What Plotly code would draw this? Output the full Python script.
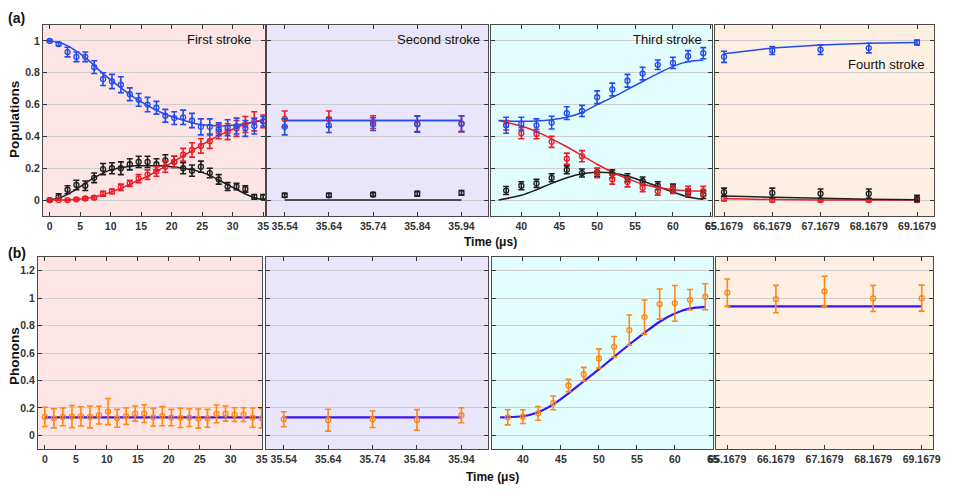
import plotly.graph_objects as go
from plotly.subplots import make_subplots

# the page adds an 8 px body margin, so the figure is drawn 8 px smaller
# and every pixel position below is measured on the 953x496 reference
OFF = 8
W, H = 953 - OFF, 496 - OFF

# ---------------- (a) populations ----------------
# first stroke
t1 = [0, 1.46, 2.92, 4.38, 5.83, 7.29, 8.75, 10.21, 11.67, 13.13, 14.58, 16.04, 17.5,
      18.96, 20.42, 21.88, 23.33, 24.79, 26.25, 27.71, 29.17, 30.63, 32.08, 33.54, 35.0]
blue1 = [1.0, 0.98, 0.93, 0.90, 0.90, 0.835, 0.76, 0.745, 0.725, 0.665, 0.63, 0.60, 0.58,
         0.53, 0.515, 0.52, 0.50, 0.46, 0.46, 0.445, 0.455, 0.465, 0.45, 0.465, 0.495]
blue1_err = [0.005, 0.01, 0.03, 0.03, 0.03, 0.04, 0.04, 0.045, 0.05, 0.04, 0.04, 0.045, 0.04,
             0.04, 0.04, 0.045, 0.045, 0.05, 0.05, 0.04, 0.05, 0.05, 0.05, 0.05, 0.03]
red1 = [0.0, 0.0, 0.0, 0.005, 0.01, 0.015, 0.04, 0.055, 0.08, 0.105, 0.135, 0.16, 0.18,
        0.21, 0.24, 0.285, 0.315, 0.34, 0.37, 0.43, 0.43, 0.45, 0.475, 0.495, 0.495]
red1_err = [0.003, 0.003, 0.005, 0.008, 0.01, 0.01, 0.015, 0.015, 0.02, 0.02, 0.025, 0.03, 0.03,
            0.035, 0.035, 0.04, 0.045, 0.045, 0.045, 0.045, 0.05, 0.05, 0.05, 0.06, 0.04]
black1 = [0.0, 0.02, 0.065, 0.095, 0.09, 0.14, 0.195, 0.20, 0.20, 0.225, 0.24, 0.24, 0.225,
          0.25, 0.24, 0.20, 0.185, 0.21, 0.17, 0.13, 0.085, 0.085, 0.07, 0.02, 0.02]
black1_err = [0.005, 0.02, 0.025, 0.03, 0.03, 0.03, 0.035, 0.035, 0.04, 0.035, 0.035, 0.035, 0.035,
              0.035, 0.035, 0.035, 0.035, 0.035, 0.03, 0.03, 0.025, 0.02, 0.02, 0.015, 0.015]
tc1 = [0, 2, 4, 6, 8, 10, 12, 14, 16, 18, 20, 22, 24, 26, 28, 30, 32, 34, 35]
blue_fit1 = [1.0, 0.985, 0.945, 0.89, 0.82, 0.755, 0.695, 0.64, 0.595, 0.555, 0.525, 0.50,
             0.48, 0.47, 0.465, 0.47, 0.48, 0.495, 0.50]
red_fit1 = [0.0, 0.0, 0.003, 0.01, 0.025, 0.05, 0.08, 0.115, 0.15, 0.19, 0.235, 0.28,
            0.325, 0.37, 0.41, 0.445, 0.475, 0.495, 0.50]
black_fit1 = [0.0, 0.02, 0.06, 0.11, 0.155, 0.19, 0.205, 0.215, 0.215, 0.215, 0.21, 0.20,
              0.185, 0.16, 0.12, 0.08, 0.04, 0.01, 0.005]

# second stroke
t2 = [35.54, 35.64, 35.74, 35.84, 35.94]
t2_labels = ["35.54", "35.64", "35.74", "35.84", "35.94"]
blue2 = [0.46, 0.47, 0.477, 0.477, 0.48]
blue2_err = [0.05, 0.045, 0.04, 0.05, 0.05]
red2 = [0.51, 0.51, 0.49, 0.48, 0.48]
red2_err = [0.05, 0.05, 0.04, 0.05, 0.05]
black2 = [0.03, 0.03, 0.035, 0.04, 0.045]
black2_err = [0.012, 0.012, 0.012, 0.015, 0.015]
blue_fit2 = [0.5, 0.5]
red_fit2 = [0.5, 0.5]
black_fit2 = [0.0, 0.0]

# third stroke
t3 = [38, 40, 42, 44, 46, 48, 50, 52, 54, 56, 58, 60, 62, 64]
blue3 = [0.47, 0.48, 0.47, 0.487, 0.546, 0.56, 0.646, 0.695, 0.75, 0.795, 0.85, 0.862, 0.904, 0.923]
blue3_err = [0.05, 0.04, 0.04, 0.04, 0.04, 0.035, 0.04, 0.04, 0.04, 0.04, 0.03, 0.035, 0.035, 0.035]
red3 = [0.47, 0.42, 0.415, 0.366, 0.26, 0.276, 0.17, 0.13, 0.113, 0.077, 0.056, 0.067, 0.056, 0.056]
red3_err = [0.03, 0.035, 0.03, 0.035, 0.035, 0.035, 0.03, 0.03, 0.03, 0.025, 0.025, 0.025, 0.03, 0.03]
black3 = [0.06, 0.09, 0.105, 0.14, 0.19, 0.17, 0.175, 0.165, 0.14, 0.12, 0.09, 0.075, 0.045, 0.035]
black3_err = [0.025, 0.025, 0.025, 0.025, 0.025, 0.025, 0.025, 0.025, 0.025, 0.025, 0.025, 0.025, 0.025, 0.025]
tc3 = [37, 40, 42, 44, 46, 48, 50, 52, 54, 56, 58, 60, 62, 64]
blue_fit3 = [0.50, 0.495, 0.497, 0.505, 0.52, 0.55, 0.60, 0.645, 0.695, 0.745, 0.795, 0.84, 0.87, 0.88]
red_fit3 = [0.50, 0.465, 0.43, 0.385, 0.335, 0.28, 0.225, 0.175, 0.135, 0.10, 0.08, 0.065, 0.058, 0.055]
black_fit3 = [0.0, 0.03, 0.065, 0.105, 0.14, 0.165, 0.175, 0.17, 0.15, 0.12, 0.085, 0.05, 0.02, 0.005]

# fourth stroke
t4 = [65.1679, 66.1679, 67.1679, 68.1679, 69.1679]
t4_labels = ["65.1679", "66.1679", "67.1679", "68.1679", "69.1679"]
blue4 = [0.90, 0.94, 0.945, 0.955, 0.99]
blue4_err = [0.035, 0.025, 0.03, 0.03, 0.015]
red4 = [0.01, 0.0, 0.0, 0.0, 0.0]
red4_err = [0.015, 0.01, 0.01, 0.01, 0.01]
black4 = [0.05, 0.045, 0.04, 0.04, 0.01]
black4_err = [0.025, 0.03, 0.03, 0.03, 0.02]
blue_fit4 = [0.92, 0.955, 0.975, 0.985, 0.99]
red_fit4 = [0.01, 0.003, 0.001, 0.0, 0.0]
black_fit4 = [0.025, 0.018, 0.01, 0.005, 0.002]

# ---------------- (b) phonons ----------------
ph1 = [0.134, 0.124, 0.134, 0.136, 0.138, 0.134, 0.147, 0.173, 0.124, 0.139, 0.158, 0.158, 0.131,
       0.139, 0.129, 0.127, 0.129, 0.122, 0.124, 0.156, 0.158, 0.151, 0.151, 0.129, 0.124]
ph1_err = [0.07, 0.07, 0.065, 0.08, 0.07, 0.08, 0.065, 0.095, 0.065, 0.06, 0.055, 0.065, 0.065,
           0.07, 0.06, 0.07, 0.065, 0.07, 0.065, 0.065, 0.055, 0.05, 0.05, 0.07, 0.07]
ph_fit1 = [0.13, 0.13]
ph2 = [0.117, 0.11, 0.117, 0.112, 0.146]
ph2_err = [0.055, 0.08, 0.06, 0.075, 0.055]
ph_fit2 = [0.13, 0.13]
ph3 = [0.131, 0.136, 0.16, 0.236, 0.363, 0.445, 0.56, 0.645, 0.767, 0.862, 0.957, 0.962, 0.988, 1.01]
ph3_err = [0.055, 0.05, 0.05, 0.05, 0.045, 0.05, 0.07, 0.075, 0.11, 0.125, 0.11, 0.13, 0.075, 0.095]
ph_fit3 = [0.131, 0.139, 0.168, 0.225, 0.305, 0.394, 0.48, 0.572, 0.662, 0.747, 0.828, 0.888, 0.925, 0.937]
ph4 = [1.04, 0.993, 1.05, 0.998, 1.0]
ph4_err = [0.1, 0.1, 0.11, 0.095, 0.095]
ph_fit4 = [0.94, 0.94]

BLUE = "rgb(35,75,235)"
RED = "rgb(235,30,40)"
BLACK = "rgb(30,30,30)"
ORANGE = "rgb(255,135,20)"
PHLINE = "rgb(60,20,240)"
BGS = ["rgb(253,229,229)", "rgb(233,229,251)", "rgb(226,253,253)", "rgb(253,240,227)"]

fig = make_subplots(rows=2, cols=4)


def pts(x, y, err, color, row, col):
    fig.add_trace(go.Scatter(
        x=x, y=y, mode="markers",
        marker=dict(symbol="circle-open", size=5, color=color, line=dict(width=1.3)),
        error_y=dict(type="data", array=err, color=color, thickness=1.6, width=3),
        showlegend=False), row=row, col=col)


def fit(x, y, color, row, col, width=1.5, shape="spline"):
    fig.add_trace(go.Scatter(
        x=x, y=y, mode="lines", line=dict(color=color, width=width, shape=shape, smoothing=0.8),
        showlegend=False, hoverinfo="skip"), row=row, col=col)


# row 1
fit(tc1, black_fit1, BLACK, 1, 1); fit(tc1, red_fit1, RED, 1, 1); fit(tc1, blue_fit1, BLUE, 1, 1)
pts(t1, black1, black1_err, BLACK, 1, 1); pts(t1, red1, red1_err, RED, 1, 1); pts(t1, blue1, blue1_err, BLUE, 1, 1)

ends2 = [t2[0], t2[-1]]
fit(ends2, black_fit2, BLACK, 1, 2, shape="linear"); fit(ends2, red_fit2, RED, 1, 2, shape="linear")
fit(ends2, blue_fit2, BLUE, 1, 2, shape="linear")
pts(t2, black2, black2_err, BLACK, 1, 2); pts(t2, red2, red2_err, RED, 1, 2); pts(t2, blue2, blue2_err, BLUE, 1, 2)

fit(tc3, black_fit3, BLACK, 1, 3); fit(tc3, red_fit3, RED, 1, 3); fit(tc3, blue_fit3, BLUE, 1, 3)
pts(t3, black3, black3_err, BLACK, 1, 3); pts(t3, red3, red3_err, RED, 1, 3); pts(t3, blue3, blue3_err, BLUE, 1, 3)

fit(t4, red_fit4, RED, 1, 4, shape="linear"); fit(t4, black_fit4, BLACK, 1, 4, shape="linear")
fit(t4, blue_fit4, BLUE, 1, 4, shape="linear")
pts(t4, red4, red4_err, RED, 1, 4); pts(t4, black4, black4_err, BLACK, 1, 4); pts(t4, blue4, blue4_err, BLUE, 1, 4)

# row 2
fit([t1[0], t1[-1]], ph_fit1, PHLINE, 2, 1, width=2.2, shape="linear")
pts(t1, ph1, ph1_err, ORANGE, 2, 1)
fit(ends2, ph_fit2, PHLINE, 2, 2, width=2.2, shape="linear")
pts(t2, ph2, ph2_err, ORANGE, 2, 2)
fit(tc3, ph_fit3, PHLINE, 2, 3, width=2.2)
pts(t3, ph3, ph3_err, ORANGE, 2, 3)
fit([t4[0], t4[-1]], ph_fit4, PHLINE, 2, 4, width=2.2, shape="linear")
pts(t4, ph4, ph4_err, ORANGE, 2, 4)


def px_x(p):
    return (p - OFF) / W


def px_y(p):
    return 1 - (p - OFF) / H


# layout of panels (pixel boxes on the reference)
top_x = [(43, 265), (267, 488), (491, 712), (715, 934)]
bot_x = [(38, 262), (266, 488), (492, 713), (716, 933)]
top_y = (25, 216)
bot_y = (257, 449)
top_xr = [[-1.1, 35.3], [35.5, 36.0], [36.0, 65.15], [64.98, 69.52]]
bot_xr = [[-1.1, 35.05], [35.5, 36.0], [35.93, 65.02], [64.935, 69.4]]
xticks = [dict(tickvals=[0, 5, 10, 15, 20, 25, 30, 35]),
          dict(tickvals=t2, ticktext=t2_labels),
          dict(tickvals=[40, 45, 50, 55, 60, 65]),
          dict(tickvals=t4, ticktext=t4_labels)]

tickfont = dict(family="Liberation Sans, Arial", size=10.5, color="#333333", weight="bold")
axis_common = dict(showline=True, linecolor="#4a4a4a", linewidth=1.3, mirror="ticks",
                   ticks="inside", ticklen=4, tickwidth=1.2, tickcolor="#333333",
                   zeroline=False, tickfont=tickfont, automargin=False)

for r, (xs, yb, xr) in enumerate([(top_x, top_y, top_xr), (bot_x, bot_y, bot_xr)]):
    for c in range(4):
        i = r * 4 + c + 1
        xn = "xaxis" if i == 1 else f"xaxis{i}"
        yn = "yaxis" if i == 1 else f"yaxis{i}"
        fig.layout[xn].update(domain=[px_x(xs[c][0]), px_x(xs[c][1])], range=xr[c],
                              showgrid=False, tickmode="array", **xticks[c], **axis_common)
        if r == 0:
            ytick = dict(range=[-0.1, 1.1], tickvals=[0, 0.2, 0.4, 0.6, 0.8, 1],
                         ticktext=["0", "0.2", "0.4", "0.6", "0.8", "1"])
        else:
            ytick = dict(range=[-0.1, 1.3], tickvals=[0, 0.2, 0.4, 0.6, 0.8, 1, 1.2],
                         ticktext=["0", "0.2", "0.4", "0.6", "0.8", "1", "1.2"])
        fig.layout[yn].update(domain=[px_y(yb[1]), px_y(yb[0])], tickmode="array",
                              showgrid=True, gridcolor="rgb(205,205,205)", gridwidth=1.2,
                              showticklabels=(c == 0), **ytick, **axis_common)
        ref = "" if i == 1 else str(i)
        fig.add_shape(type="rect", xref=f"x{ref} domain", yref=f"y{ref} domain",
                      x0=0, x1=1, y0=0, y1=1, fillcolor=BGS[c], line_width=0, layer="below")

ann_font = dict(family="Liberation Sans, Arial", color="#111111")
annots = [
    ("(a)", 16, 18, 14, "bold", 0, "center"),
    ("(b)", 17, 253, 14, "bold", 0, "center"),
    ("Populations", 14, 120, 13.5, "bold", -90, "center"),
    ("Phonons", 14, 356, 13.5, "bold", -90, "center"),
    ("Time (μs)", 490, 242, 12, "bold", 0, "center"),
    ("Time (μs)", 492, 477, 12, "bold", 0, "center"),
    ("First stroke", 253, 40, 13, "normal", 0, "right"),
    ("Second stroke", 482, 40, 13, "normal", 0, "right"),
    ("Third stroke", 704, 40, 13, "normal", 0, "right"),
    ("Fourth stroke", 927, 64, 13, "normal", 0, "right"),
]
for text, px, py, size, weight, angle, xanchor in annots:
    fig.add_annotation(text=text, x=px_x(px), y=px_y(py), xref="paper", yref="paper",
                       xanchor=xanchor, yanchor="middle", showarrow=False, textangle=angle,
                       font=dict(size=size, weight=weight, **ann_font))

fig.update_layout(width=W, height=H, margin=dict(l=0, r=0, t=0, b=0),
                  paper_bgcolor="white", plot_bgcolor="rgba(0,0,0,0)", showlegend=False)

fig.write_html("out.html")
